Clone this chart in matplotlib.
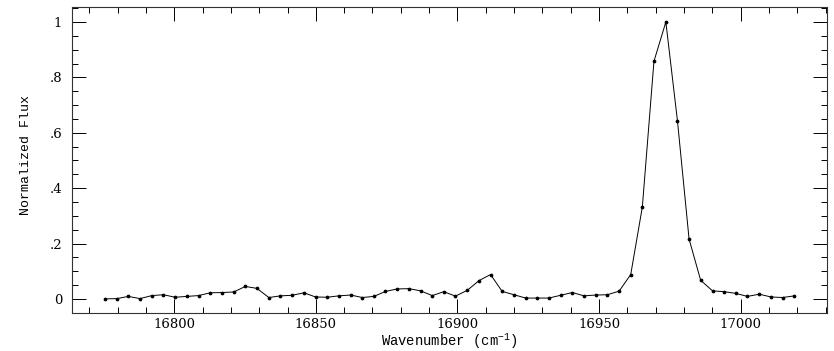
import matplotlib
matplotlib.use("Agg")
import matplotlib.pyplot as plt
from matplotlib.ticker import MultipleLocator

wavenumber = [
    16775.6, 16779.7, 16783.8, 16787.9, 16792.1, 16796.2, 16800.3, 16804.5,
    16808.6, 16812.7, 16816.9, 16821.0, 16825.1, 16829.2, 16833.4, 16837.5,
    16841.6, 16845.8, 16849.9, 16854.0, 16858.1, 16862.3, 16866.4, 16870.5,
    16874.6, 16878.8, 16882.9, 16887.0, 16891.1, 16895.2, 16899.3, 16903.5,
    16907.6, 16911.7, 16915.8, 16920.0, 16924.1, 16928.2, 16932.3, 16936.4,
    16940.6, 16944.7, 16948.8, 16952.9, 16957.1, 16961.2, 16965.3, 16969.4,
    16973.6, 16977.7, 16981.8, 16985.9, 16990.1, 16994.2, 16998.3, 17002.4,
    17006.6, 17010.7, 17014.8, 17019.0,
]
flux = [
    0.000, 0.001, 0.009, 0.001, 0.012, 0.015, 0.006, 0.009,
    0.012, 0.022, 0.023, 0.025, 0.045, 0.038, 0.005, 0.011,
    0.013, 0.022, 0.007, 0.006, 0.011, 0.014, 0.005, 0.009,
    0.027, 0.036, 0.037, 0.029, 0.012, 0.026, 0.010, 0.031,
    0.066, 0.088, 0.027, 0.015, 0.003, 0.003, 0.003, 0.013,
    0.023, 0.011, 0.014, 0.015, 0.028, 0.088, 0.332, 0.858,
    1.000, 0.643, 0.216, 0.067, 0.029, 0.026, 0.020, 0.009,
    0.017, 0.007, 0.005, 0.011,
]
x_ticks = [16800, 16850, 16900, 16950, 17000]
y_ticks = [0, 0.2, 0.4, 0.6, 0.8, 1.0]
y_tick_labels = ["0", ".2", ".4", ".6", ".8", "1"]

plt.rcParams["mathtext.fontset"] = "custom"
plt.rcParams["mathtext.rm"] = "DejaVu Serif"
plt.rcParams["mathtext.it"] = "DejaVu Serif"

fig = plt.figure(figsize=(8.34, 3.51), dpi=100)
ax = fig.add_axes([72 / 834, 1 - 313.3 / 351, (826.7 - 72) / 834, (313.3 - 7.3) / 351])

ax.plot(wavenumber, flux, color="black", lw=0.7, marker="o", ms=1.7,
        mfc="black", mec="black")

ax.set_xlim(16763.9, 17030.4)
ax.set_ylim(-0.052, 1.053)

ax.set_xticks(x_ticks)
ax.xaxis.set_minor_locator(MultipleLocator(10))
ax.set_yticks(y_ticks)
ax.set_yticklabels(y_tick_labels)
ax.yaxis.set_minor_locator(MultipleLocator(0.05))

ax.tick_params(which="both", direction="in", top=True, right=True,
               color="black", width=0.7)
ax.tick_params(which="major", length=10, labelsize=9.5)
ax.tick_params(which="minor", length=4.5)
ax.tick_params(axis="x", which="major", pad=3.5)
ax.tick_params(axis="y", which="major", pad=7)
for lab in ax.get_xticklabels() + ax.get_yticklabels():
    lab.set_family("DejaVu Serif")

for sp in ax.spines.values():
    sp.set_linewidth(0.8)
    sp.set_color("#333333")

ax.set_xlabel("Wavenumber (cm$^{\\mathregular{-1}}$)", family="Liberation Mono", fontsize=10)
ax.set_ylabel("Normalized Flux", family="Liberation Mono", fontsize=9.5)
ax.xaxis.set_label_coords(0.5, -0.060)
ax.yaxis.set_label_coords(-0.053, 0.517)

fig.savefig("out.png", dpi=100)
